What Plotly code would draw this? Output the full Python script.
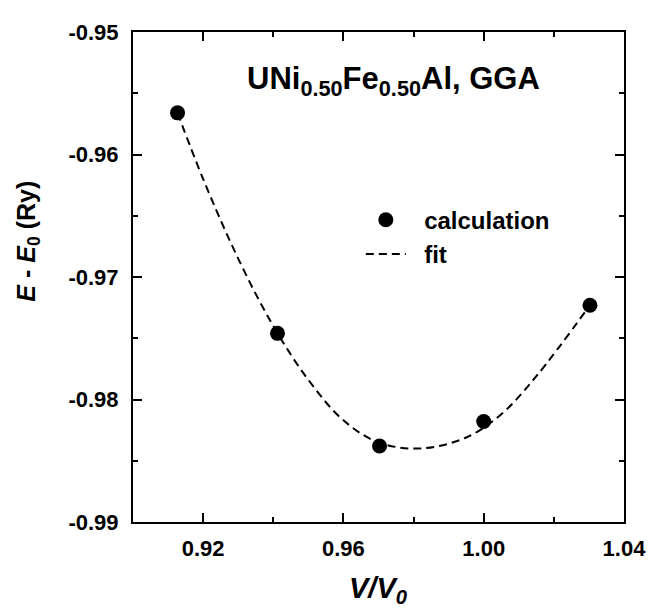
import plotly.graph_objects as go

# calculated points
vol_calc = [0.9127, 0.9412, 0.9703, 1.0000, 1.0303]
energy_calc = [-0.9566, -0.9746, -0.9838, -0.9818, -0.9723]

# fit curve
vol_fit = [0.9127, 0.920, 0.930, 0.940, 0.950, 0.960, 0.970, 0.982, 0.995, 1.005, 1.015, 1.0303]
energy_fit = [-0.9566, -0.9620, -0.9685, -0.9740, -0.9784, -0.9817, -0.9835, -0.9840, -0.9831, -0.9812, -0.9781, -0.9723]

x_tickvals = [0.92, 0.96, 1.00, 1.04]
x_ticktext = ["0.92", "0.96", "1.00", "1.04"]
y_tickvals = [-0.99, -0.98, -0.97, -0.96, -0.95]
y_ticktext = ["-0.99", "-0.98", "-0.97", "-0.96", "-0.95"]

FONT = "Liberation Sans, Arial, sans-serif"
NB = "\u00a0"

fig = go.Figure()
fig.add_trace(go.Scatter(
    x=vol_calc, y=energy_calc, mode="markers", name=NB * 2 + "calculation",
    marker=dict(color="black", size=15, symbol="circle"),
))
fig.add_trace(go.Scatter(
    x=vol_fit, y=energy_fit, mode="lines", name=NB * 2 + "fit",
    line=dict(color="black", width=2, dash="8px,5px", shape="spline"),
))

axis_common = dict(
    showline=True, linecolor="black", linewidth=2, mirror="ticks",
    ticks="inside", tickcolor="black", tickwidth=1.5, ticklen=9,
    showgrid=False, zeroline=False,
    tickfont=dict(family=FONT, size=22, color="black", weight="bold"),
)

fig.update_xaxes(
    range=[0.90, 1.04], tickvals=x_tickvals, ticktext=x_ticktext,
    minor=dict(ticks="inside", tick0=0.90, dtick=0.02, ticklen=5, tickcolor="black", tickwidth=1.5),
    ticklabelstandoff=6,
    **axis_common,
)
fig.update_yaxes(
    range=[-0.99, -0.95], tickvals=y_tickvals, ticktext=y_ticktext,
    minor=dict(ticks="inside", tick0=-0.99, dtick=0.005, ticklen=5, tickcolor="black", tickwidth=1.5),
    ticklabelstandoff=8,
    **axis_common,
)

# axis titles
fig.add_annotation(
    text="<b><i>V/V<sub>0</sub></i></b>",
    xref="paper", yref="paper", x=0.5, y=-0.138, xanchor="center", yanchor="middle",
    showarrow=False, font=dict(family=FONT, size=29, color="black"),
)
fig.add_annotation(
    text="<b><i>E</i> - <i>E</i><sub>0</sub> (Ry)</b>", textangle=-90,
    xref="paper", yref="paper", x=-0.213, y=0.573, xanchor="center", yanchor="middle",
    showarrow=False, font=dict(family=FONT, size=25, color="black"),
)

# compound label
fig.add_annotation(
    text="<b>UNi<sub>0.50</sub>Fe<sub>0.50</sub>Al, GGA</b>",
    xref="paper", yref="paper", x=0.53, y=0.9, xanchor="center", yanchor="middle",
    showarrow=False, font=dict(family=FONT, size=31, color="black"),
)

# the page body adds an 8px offset, so the figure is sized to land the plot area on the reference
fig.update_layout(
    width=650, height=602,
    margin=dict(l=125, r=27, t=13, b=88),
    paper_bgcolor="white", plot_bgcolor="white",
    showlegend=True,
    legend=dict(
        x=0.464, y=0.662, xanchor="left", yanchor="top",
        bgcolor="rgba(0,0,0,0)", borderwidth=0,
        font=dict(family=FONT, size=24, color="black", weight="bold"),
        tracegroupgap=0, itemwidth=40,
    ),
)

fig.write_html("out.html")
